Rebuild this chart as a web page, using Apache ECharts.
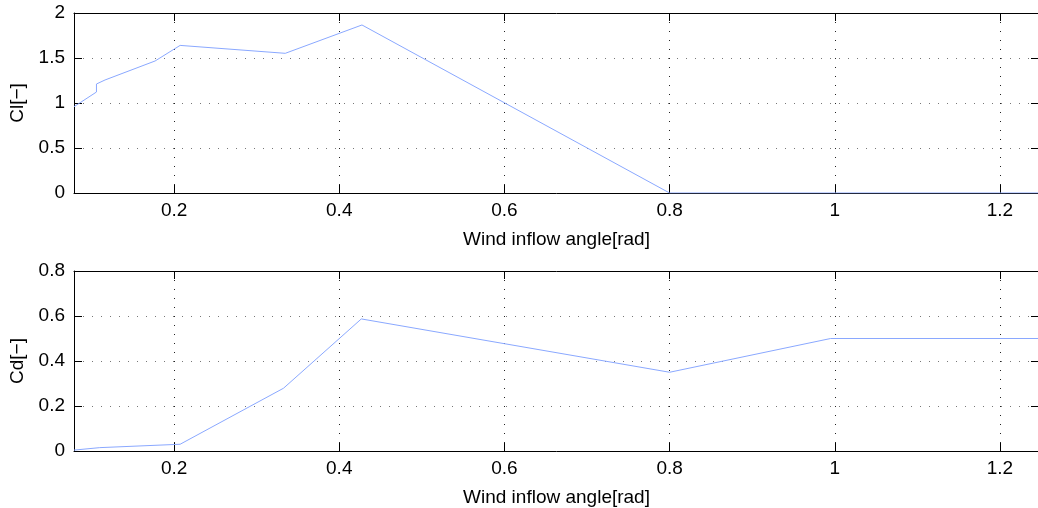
<!DOCTYPE html>
<html>
<head>
<meta charset="utf-8">
<script src="https://cdn.jsdelivr.net/npm/echarts@6/dist/echarts.min.js"></script>
<style>
  html, body { margin: 0; padding: 0; background: #fff; overflow: hidden; }
  #chart { width: 1038px; height: 508px; }
</style>
</head>
<body>
<div id="chart"></div>
<script>
// Lift coefficient against inflow angle (the repeated angle is a jump in Cl)
const angleCl = [0.0788, 0.106, 0.106, 0.1164, 0.177, 0.2073, 0.3346, 0.4275, 0.8, 1.2566];
const clValues = [0.959, 1.122, 1.211, 1.256, 1.467, 1.64, 1.552, 1.867, 0.0, 0.0];

// Drag coefficient against inflow angle
const angleCd = [0.0788, 0.110, 0.2073, 0.3325, 0.4267, 0.8, 0.995, 1.2566];
const cdValues = [0.004, 0.015, 0.03, 0.279, 0.587, 0.35, 0.5, 0.5];

// Axis ranges and ticks
const xRange = [0.0788, 1.2473];
const xStep = 0.2;
const clTicks = [0, 0.5, 1, 1.5, 2];
const cdTicks = [0, 0.2, 0.4, 0.6, 0.8];

const FONT = 'Liberation Sans, Arial, sans-serif';
const FONT_SIZE = 19;
const LINE_COLOR = '#8aa8ff';

function pairs(xs, ys) { return xs.map((x, i) => [x, ys[i]]); }

function fmt(v) { return String(+v.toFixed(2)); }

function xLabel(v) {
  const k = v / xStep;
  return Math.abs(k - Math.round(k)) < 1e-6 ? fmt(v) : '';
}

const textStyle = { fontFamily: FONT, fontSize: FONT_SIZE, color: '#000' };

function mainX(gridIndex) {
  return {
    type: 'value', gridIndex, position: 'bottom',
    min: xRange[0], max: xRange[1], splitNumber: 5,
    name: 'Wind inflow angle[rad]', nameLocation: 'middle', nameGap: 37,
    nameTextStyle: textStyle,
    axisLine: { show: true, onZero: false, lineStyle: { color: '#000', width: 1 } },
    axisTick: { show: true, inside: true, length: 8, lineStyle: { color: '#000' } },
    axisLabel: Object.assign({ margin: 8, formatter: xLabel, showMinLabel: false, showMaxLabel: false }, textStyle),
    splitLine: { show: true, lineStyle: { color: '#222', type: [1, 8], width: 1 } }
  };
}

function topX(gridIndex) {
  return {
    type: 'value', gridIndex, position: 'top',
    min: xRange[0], max: xRange[1], splitNumber: 5,
    axisLine: { show: true, onZero: false, lineStyle: { color: '#000', width: 1 } },
    axisTick: { show: true, inside: true, length: 8, lineStyle: { color: '#000' } },
    axisLabel: { show: false },
    splitLine: { show: false }
  };
}

function mainY(gridIndex, ticks, name) {
  const step = ticks[1] - ticks[0];
  return {
    type: 'value', gridIndex, position: 'left',
    min: ticks[0], max: ticks[ticks.length - 1], interval: step,
    name, nameLocation: 'middle', nameGap: 41,
    nameTextStyle: textStyle,
    axisLine: { show: true, onZero: false, lineStyle: { color: '#000', width: 1 } },
    axisTick: { show: true, inside: true, length: 8, lineStyle: { color: '#000' } },
    axisLabel: Object.assign({ margin: 9, formatter: fmt }, textStyle),
    splitLine: { show: true, lineStyle: { color: '#777', type: [1, 8], width: 1 } }
  };
}

function rightY(gridIndex, ticks) {
  const step = ticks[1] - ticks[0];
  return {
    type: 'value', gridIndex, position: 'right',
    min: ticks[0], max: ticks[ticks.length - 1], interval: step,
    axisLine: { show: true, onZero: false, lineStyle: { color: '#000', width: 1 } },
    axisTick: { show: true, inside: true, length: 8, lineStyle: { color: '#000' } },
    axisLabel: { show: false },
    splitLine: { show: false }
  };
}

const chart = echarts.init(document.getElementById('chart'), null, { renderer: 'canvas' });

chart.setOption({
  backgroundColor: '#fff',
  animation: false,
  grid: [
    { left: 74, right: -1, top: 13, height: 180, containLabel: false, outerBoundsMode: 'none' },
    { left: 74, right: -1, top: 271, height: 180, containLabel: false, outerBoundsMode: 'none' }
  ],
  xAxis: [mainX(0), topX(0), mainX(1), topX(1)],
  yAxis: [mainY(0, clTicks, 'Cl[−]'), rightY(0, clTicks), mainY(1, cdTicks, 'Cd[−]'), rightY(1, cdTicks)],
  series: [
    {
      type: 'line', xAxisIndex: 0, yAxisIndex: 0,
      data: pairs(angleCl, clValues),
      showSymbol: false, clip: true,
      lineStyle: { color: LINE_COLOR, width: 1 }, z: 5
    },
    {
      type: 'line', xAxisIndex: 2, yAxisIndex: 2,
      data: pairs(angleCd, cdValues),
      showSymbol: false, clip: true,
      lineStyle: { color: LINE_COLOR, width: 1 }, z: 5
    }
  ]
});
</script>
</body>
</html>
